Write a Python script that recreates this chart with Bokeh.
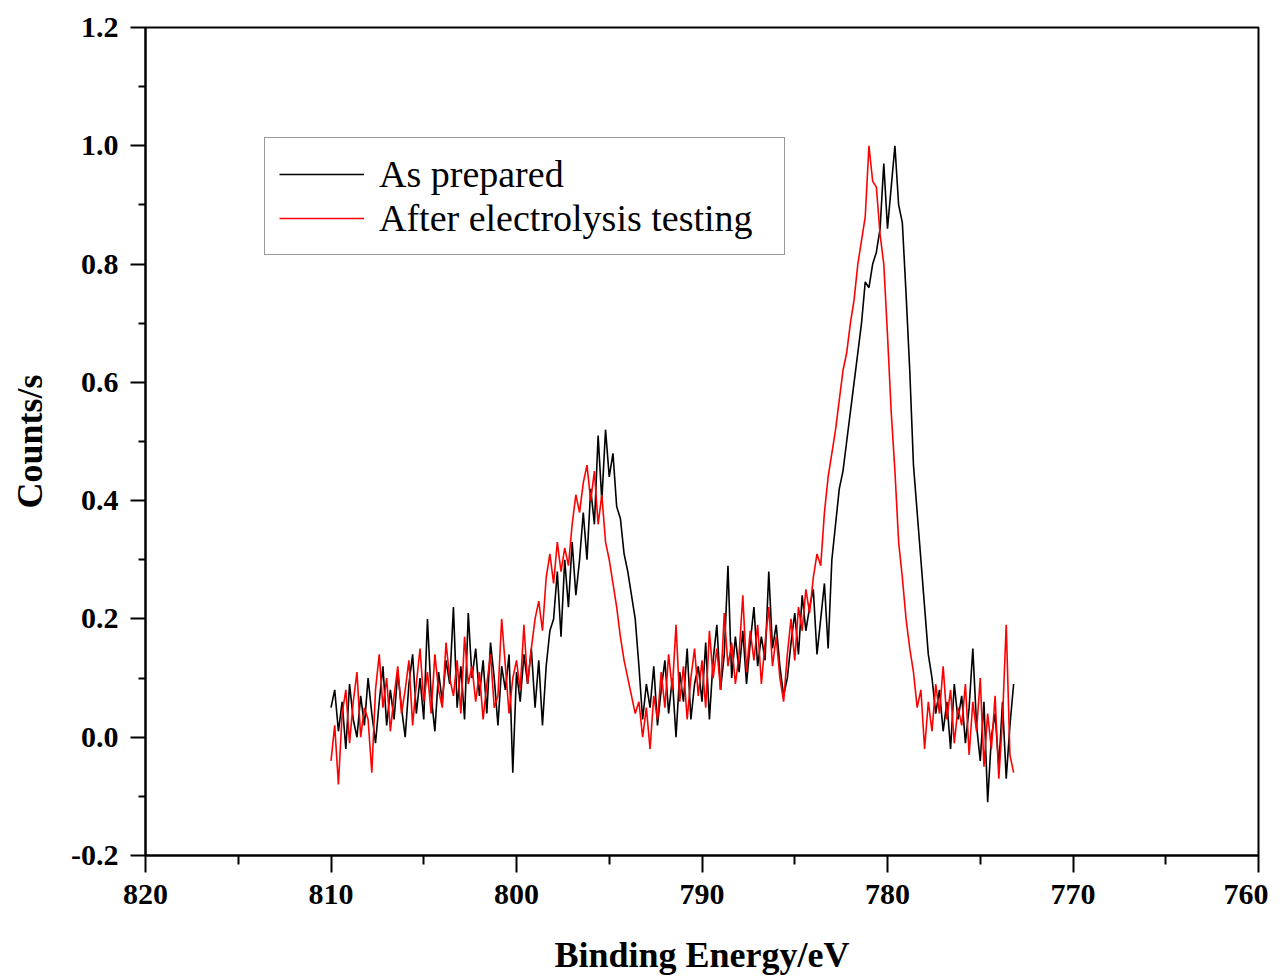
import numpy as np
from bokeh.plotting import figure
from bokeh.models import (Range1d, FixedTicker, PrintfTickFormatter, Legend,
                          LegendItem, ColumnDataSource)
from bokeh.embed import file_html
from bokeh.resources import INLINE

# ---------------- data ----------------
energy_start = 810.0
energy_step = 0.2
n_points = 185
energy = np.round(energy_start - energy_step * np.arange(n_points), 1)

as_prepared = [
    0.05, 0.08, 0.01, 0.06, -0.02, 0.09, 0.03, 0.00, 0.07, 0.02,
    0.10, 0.04, -0.01, 0.06, 0.12, 0.02, 0.08, 0.03, 0.11, 0.05,
    0.00, 0.09, 0.14, 0.04, 0.10, 0.03, 0.20, 0.07, 0.01, 0.11,
    0.06, 0.13, 0.09, 0.22, 0.05, 0.12, 0.03, 0.21, 0.10, 0.15,
    0.07, 0.13, 0.04, 0.16, 0.10, 0.02, 0.12, 0.08, 0.14, -0.06,
    0.11, 0.06, 0.14, 0.09, 0.15, 0.05, 0.13, 0.02, 0.12, 0.18,
    0.20, 0.28, 0.17, 0.30, 0.22, 0.33, 0.24, 0.30, 0.38, 0.30,
    0.42, 0.36, 0.51, 0.40, 0.52, 0.44, 0.48, 0.39, 0.37, 0.31,
    0.28, 0.24, 0.20, 0.12, 0.03, 0.09, 0.05, 0.12, 0.02, 0.08,
    0.13, 0.04, 0.10, 0.00, 0.11, 0.06, 0.15, 0.03, 0.09, 0.12,
    0.06, 0.16, 0.03, 0.13, 0.19, 0.08, 0.14, 0.29, 0.10, 0.17,
    0.11, 0.18, 0.09, 0.16, 0.22, 0.12, 0.17, 0.13, 0.28, 0.15,
    0.19, 0.12, 0.07, 0.10, 0.16, 0.21, 0.14, 0.24, 0.18, 0.22,
    0.25, 0.14, 0.20, 0.26, 0.15, 0.30, 0.36, 0.42, 0.45, 0.50,
    0.55, 0.60, 0.65, 0.70, 0.77, 0.76, 0.80, 0.82, 0.86, 0.97,
    0.86, 0.93, 1.00, 0.90, 0.87, 0.75, 0.62, 0.46, 0.38, 0.30,
    0.22, 0.14, 0.10, 0.04, 0.08, 0.01, 0.06, -0.02, 0.09, 0.03,
    0.07, -0.01, 0.05, 0.15, 0.02, -0.04, 0.06, -0.11, 0.00, 0.04,
    -0.05, 0.06, -0.07, 0.02, 0.09,
]

after_electrolysis = [
    -0.04, 0.02, -0.08, 0.04, 0.08, -0.01, 0.06, 0.11, 0.00, 0.05,
    0.03, -0.06, 0.08, 0.14, 0.05, 0.10, 0.01, 0.07, 0.12, 0.04,
    0.08, 0.13, 0.02, 0.09, 0.15, 0.06, 0.11, 0.04, 0.14, 0.08,
    0.05, 0.16, 0.10, 0.07, 0.13, 0.04, 0.17, 0.09, 0.12, 0.06,
    0.11, 0.03, 0.09, 0.14, 0.05, 0.07, 0.20, 0.12, 0.04, 0.10,
    0.13, 0.08, 0.19, 0.09, 0.15, 0.20, 0.23, 0.18, 0.27, 0.31,
    0.26, 0.33, 0.28, 0.32, 0.29, 0.36, 0.41, 0.38, 0.43, 0.46,
    0.40, 0.45, 0.36, 0.41, 0.33, 0.30, 0.26, 0.22, 0.17, 0.13,
    0.10, 0.07, 0.04, 0.06, 0.00, 0.05, -0.02, 0.07, 0.03, 0.11,
    0.05, 0.14, 0.08, 0.19, 0.06, 0.12, 0.03, 0.10, 0.15, 0.07,
    0.13, 0.05, 0.18, 0.10, 0.15, 0.08, 0.21, 0.12, 0.16, 0.09,
    0.14, 0.24, 0.11, 0.18, 0.13, 0.19, 0.09, 0.16, 0.22, 0.12,
    0.17, 0.10, 0.06, 0.14, 0.20, 0.13, 0.22, 0.18, 0.25, 0.21,
    0.27, 0.31, 0.29, 0.38, 0.44, 0.48, 0.52, 0.57, 0.62, 0.65,
    0.70, 0.74, 0.80, 0.84, 0.88, 1.00, 0.94, 0.93, 0.85, 0.80,
    0.68, 0.55, 0.45, 0.33, 0.27, 0.20, 0.15, 0.11, 0.05, 0.08,
    -0.02, 0.06, 0.01, 0.09, 0.04, 0.12, 0.03, 0.08, -0.01, 0.05,
    0.02, 0.09, -0.03, 0.06, 0.01, 0.10, -0.05, 0.04, -0.02, 0.07,
    -0.07, 0.03, 0.19, -0.03, -0.06,
]

series_names = ["As prepared", "After electrolysis testing"]
series_colors = ["#000000", "#ff0000"]

x_major = [820, 810, 800, 790, 780, 770, 760]
x_minor = [815, 805, 795, 785, 775, 765]
y_major = [-0.2, 0.0, 0.2, 0.4, 0.6, 0.8, 1.0, 1.2]
y_minor = [-0.1, 0.1, 0.3, 0.5, 0.7, 0.9, 1.1]

# ---------------- figure ----------------
FONT = "Liberation Serif"

p = figure(frame_width=1113, frame_height=828,
           x_range=Range1d(820, 760), y_range=Range1d(-0.2, 1.2),
           output_backend="svg", toolbar_location=None,
           min_border_left=145, min_border_top=27, min_border_right=10,
           min_border_bottom=0, background_fill_color="white",
           border_fill_color="white")

p.xgrid.visible = False
p.ygrid.visible = False
p.outline_line_color = "black"
p.outline_line_width = 2
p.outline_line_alpha = 1

for ax in (p.xaxis[0], p.yaxis[0]):
    ax.axis_line_width = 2
    ax.major_tick_line_width = 2
    ax.minor_tick_line_width = 2
    ax.major_tick_in = 0
    ax.minor_tick_in = 0
    ax.major_label_text_font = FONT
    ax.major_label_text_font_style = "bold"
    ax.major_label_text_font_size = "30px"
    ax.major_label_text_color = "black"
    ax.axis_label_text_font = FONT
    ax.axis_label_text_font_style = "bold"
    ax.axis_label_text_font_size = "36px"
    ax.axis_label_text_color = "black"

p.xaxis[0].ticker = FixedTicker(ticks=x_major, minor_ticks=x_minor)
p.yaxis[0].ticker = FixedTicker(ticks=y_major, minor_ticks=y_minor)
p.xaxis[0].formatter = PrintfTickFormatter(format="%d")
p.yaxis[0].formatter = PrintfTickFormatter(format="%.1f")

p.xaxis[0].major_tick_out = 17
p.xaxis[0].minor_tick_out = 9
p.xaxis[0].major_label_standoff = 12
p.xaxis[0].axis_label = "Binding Energy/eV"
p.xaxis[0].axis_label_standoff = 28

p.yaxis[0].major_tick_out = 15
p.yaxis[0].minor_tick_out = 7
p.yaxis[0].major_label_standoff = 12
p.yaxis[0].axis_label = "Counts/s"
p.yaxis[0].axis_label_standoff = 18

renderers = []
for vals, name, col in zip([as_prepared, after_electrolysis], series_names, series_colors):
    src = ColumnDataSource(dict(x=energy, y=vals))
    r = p.line("x", "y", source=src, line_color=col, line_width=1.6)
    renderers.append(r)

legend = Legend(
    items=[LegendItem(label=n, renderers=[r]) for n, r in zip(series_names, renderers)],
    location=(119, 600),
    border_line_color="#333333", border_line_width=1.5,
    background_fill_color="white", background_fill_alpha=1,
    padding=14, spacing=0, glyph_width=85, glyph_height=30,
    label_standoff=15, label_width=391, margin=0,
    label_text_font=FONT, label_text_font_size="38px",
    label_text_color="black",
)
p.add_layout(legend)

open("out.html", "w").write(file_html(p, INLINE))
